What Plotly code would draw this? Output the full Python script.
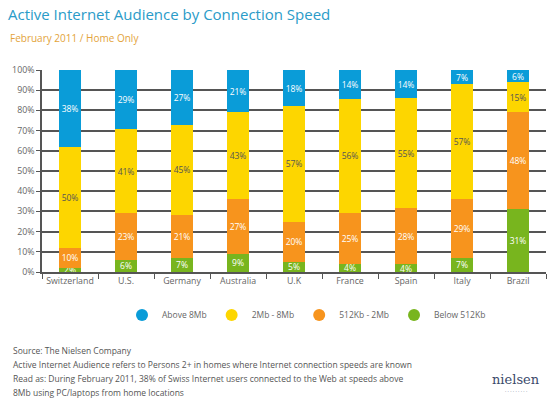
import plotly.graph_objects as go

countries = ["Switzerland", "U.S.", "Germany", "Australia", "U.K", "France", "Spain", "Italy", "Brazil"]
above_8mb = [38, 29, 27, 21, 18, 14, 14, 7, 6]
mb2_8 = [50, 41, 45, 43, 57, 56, 55, 57, 15]
kb512_2mb = [10, 23, 21, 27, 20, 25, 28, 29, 48]
below_512kb = [2, 6, 7, 9, 5, 4, 4, 7, 31]
y_ticks = [0, 10, 20, 30, 40, 50, 60, 70, 80, 90, 100]
y_tick_labels = [f"{v}%" for v in y_ticks]

series = [
    ("Below 512Kb", below_512kb, "#78B51E", "white"),
    ("512Kb - 2Mb", kb512_2mb, "#F7941D", "white"),
    ("2Mb - 8Mb", mb2_8, "#FDD600", "#555555"),
    ("Above 8Mb", above_8mb, "#0A9CD8", "white"),
]
legend_order = ["Above 8Mb", "2Mb - 8Mb", "512Kb - 2Mb", "Below 512Kb"]

W, H = 551, 398
L, R, T, B = 42, 5, 70, 126
PW, PH = W - L - R, H - T - B

def px(x):
    return (x - L) / PW

def py(y):
    return (H - B - y) / PH

FONT = "Open Sans"
fig = go.Figure()
for name, vals, col, tcol in series:
    fig.add_trace(go.Bar(
        x=countries, y=vals, name=name, marker=dict(color=col, line=dict(width=0)),
        text=[f"{v}%" for v in vals], textposition="inside", insidetextanchor="middle",
        textangle=0, constraintext="none",
        textfont=dict(color=tcol, size=8.5, family=FONT),
        showlegend=False, width=0.4, hoverinfo="skip",
    ))

colors = {n: c for n, _, c, _ in series}
for n in legend_order:
    fig.add_trace(go.Scatter(
        x=[None], y=[None], mode="markers", name=n,
        marker=dict(symbol="circle", size=11, color=colors[n]),
    ))

fig.update_layout(
    width=W, height=H, barmode="stack", barnorm="percent",
    margin=dict(l=L, r=R, t=T, b=B),
    paper_bgcolor="white", plot_bgcolor="white",
    font=dict(family=FONT, color="#666666", size=9),
    title=dict(text="Active Internet Audience by Connection Speed", x=8 / W, xanchor="left",
               y=1 - 15 / H, yanchor="middle",
               font=dict(size=15, color="#2A9BC8", family=FONT)),
    legend=dict(orientation="h", x=px(122), xanchor="left", y=py(315), yanchor="middle",
                itemsizing="constant",
                font=dict(size=8.5, color="#666666"), traceorder="normal",
                itemwidth=30),
    xaxis=dict(showline=True, linecolor="#555555", linewidth=1.5, ticks="outside",
               tickson="boundaries", ticklen=5, tickcolor="#555555", tickangle=0,
               tickfont=dict(size=8.8, color="#666666"), range=[-0.5, 8.5]),
    yaxis=dict(range=[0, 100], tickvals=y_ticks, ticktext=y_tick_labels,
               showgrid=True, gridcolor="#555555", gridwidth=1.5,
               showline=True, linecolor="#555555", linewidth=1.5,
               ticks="outside", ticklen=4, tickcolor="#555555",
               tickfont=dict(size=8.8, color="#666666"), zeroline=False),
    bargap=0.6,
)

fig.add_annotation(text="February 2011 / Home Only", xref="paper", yref="paper",
                   x=px(8), y=py(38), xanchor="left", yanchor="middle", showarrow=False,
                   font=dict(size=10, color="#E3A33A", family=FONT))

footer = [
    "Source: The Nielsen Company",
    "Active Internet Audience refers to Persons 2+ in homes where Internet connection speeds are known",
    "Read as: During February 2011, 38% of Swiss Internet users connected to the Web at speeds above",
    "8Mb using PC/laptops from home locations",
]
for i, line in enumerate(footer):
    fig.add_annotation(text=line, xref="paper", yref="paper", x=px(11), y=py(350 + i * 14.2),
                       xanchor="left", yanchor="middle", showarrow=False,
                       font=dict(size=8.5, color="#555555", family=FONT))

fig.add_annotation(text="nielsen", xref="paper", yref="paper", x=px(516), y=py(379),
                   xanchor="center", yanchor="middle", showarrow=False,
                   font=dict(size=13, color="#3B4A6B", family="DejaVu Serif"))
fig.add_annotation(text="· · · · · · · · ·", xref="paper", yref="paper", x=px(516), y=py(391),
                   xanchor="center", yanchor="middle", showarrow=False,
                   font=dict(size=5, color="#3B4A6B", family=FONT))

fig.write_html("out.html", config={"displayModeBar": False},
               post_script="document.body.style.margin='0';")
